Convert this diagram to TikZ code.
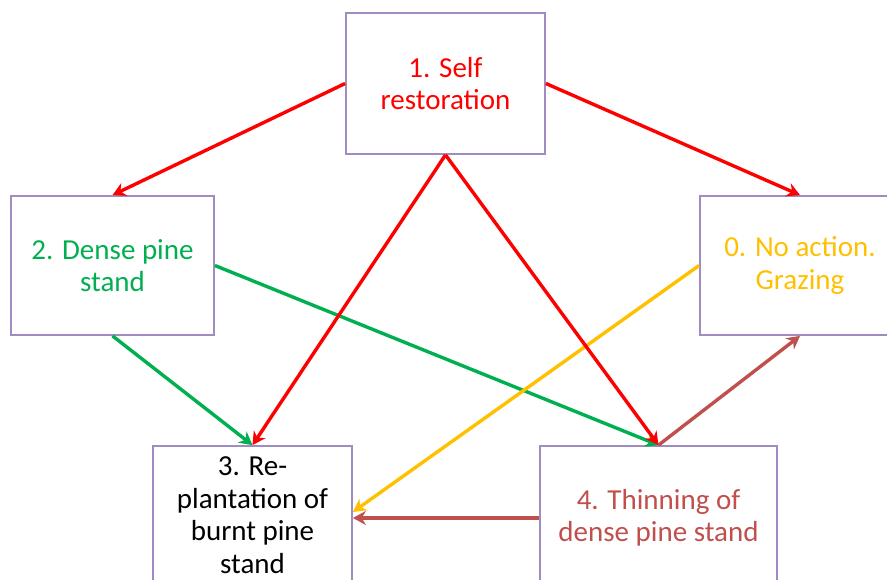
\documentclass[tikz,border=0pt]{standalone}
\usepackage{fontspec}
\setmainfont{Carlito}
\usetikzlibrary{arrows.meta,calc}
\definecolor{boxpurple}{RGB}{160,140,192}
\definecolor{restred}{RGB}{255,0,0}
\definecolor{pinegreen}{RGB}{0,176,80}
\definecolor{grazeyellow}{RGB}{255,192,0}
\definecolor{thinbrown}{RGB}{192,80,77}

\begin{document}
\begin{tikzpicture}[x=1pt, y=-1pt,
  box/.style={rectangle, draw=boxpurple, line width=1.8pt, fill=white, align=center, font=\fontsize{29}{32.5}\selectfont},
  arrow/.style={-{Stealth[length=13pt,width=14pt]}, line width=3.4pt}
]
\useasboundingbox (0,0) rectangle (887,579);
\clip (0,0) rectangle (887,579);

\node[box, minimum width=199pt, minimum height=141pt, text=restred] (self) at (445.5,83.5) {1. Self\\restoration};
\node[box, minimum width=203pt, minimum height=139pt, text=pinegreen] (dense) at (112.5,265.5) {2. Dense pine\\stand};
\node[box, minimum width=200pt, minimum height=139pt, text=grazeyellow] (noact) at (800,265.5) {0. No action.\\Grazing};
\node[box, minimum width=199pt, minimum height=144pt] (replant) at (252.5,518) {};
\node[align=center, font=\fontsize{29}{32.5}\selectfont] (replanttext) at (252.5,515) {3. Re-\\plantation of\\burnt pine\\stand};
\node[box, minimum width=237pt, minimum height=144pt, text=thinbrown] (thin) at (658.5,518) {4. Thinning of\\dense pine stand};

\draw[arrow, restred] (self.west) -- (dense.north);
\draw[arrow, restred] (self.east) -- (noact.north);
\draw[arrow, pinegreen] (dense.south) -- (replant.north);
\draw[arrow, pinegreen] (dense.east) -- (thin.north);
\draw[arrow, grazeyellow] (noact.west) -- ($(replant.east)+(0,-6)$);
\draw[arrow, restred] (self.south) -- (replant.north);
\draw[arrow, restred] (self.south) -- (thin.north);
\draw[arrow, thinbrown] (thin.north) -- (noact.south);
\draw[arrow, thinbrown] (thin.west) -- (replant.east);
\end{tikzpicture}
\end{document}
